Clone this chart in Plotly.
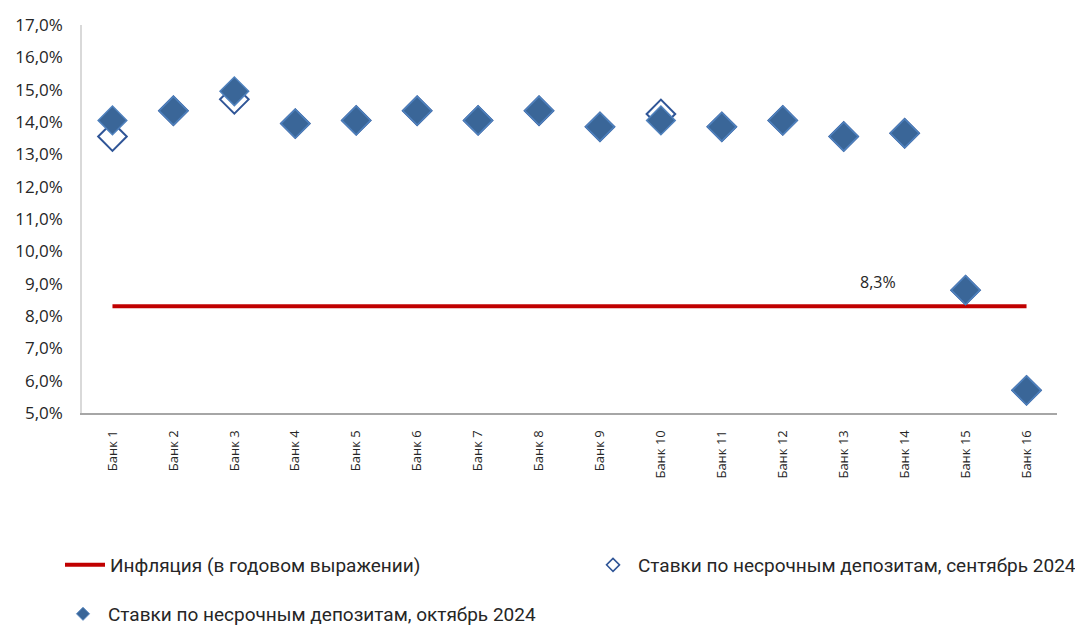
import plotly.graph_objects as go

banks = ['Банк ' + str(i) for i in range(1, 17)]
rates_oct = [14.05, 14.35, 14.95, 13.95, 14.05, 14.35, 14.05, 14.35,
             13.85, 14.05, 13.85, 14.05, 13.55, 13.65, 8.8, 5.7]
rates_sep = [13.55, 14.35, 14.7, 13.95, 14.05, 14.35, 14.05, 14.35,
             13.85, 14.25, 13.85, 14.05, 13.55, 13.65, 8.8, 5.7]
inflation = [8.3] * 16
inflation_label = '8,3%'

name_infl = 'Инфляция (в годовом выражении)'
name_sep = 'Ставки по несрочным депозитам, сентябрь 2024'
name_oct = 'Ставки по несрочным депозитам, октябрь 2024'

fnt = 'Open Sans'
leg_font = dict(family='Roboto', size=19, color='#262626')

# the page body has an 8px margin, so the figure is drawn 8px smaller
W, H = 1083 - 8, 627 - 8
L, R, T, B = 82 - 8, 26, 25 - 8, 627 - 413

sep_marker = dict(symbol='diamond', color='white', line=dict(color='#2F5597', width=2))
oct_marker = dict(symbol='diamond', color='#3A6698', line=dict(color='#4F81BD', width=1.5))

fig = go.Figure()

fig.add_trace(go.Scatter(x=banks, y=inflation, mode='lines', showlegend=True,
                         name=name_infl, line=dict(color='#C00000', width=4),
                         legend='legend'))
fig.add_trace(go.Scatter(x=banks, y=rates_sep, mode='markers', showlegend=False,
                         name=name_sep, marker=dict(sep_marker, size=22)))
fig.add_trace(go.Scatter(x=banks, y=rates_oct, mode='markers', showlegend=False,
                         name=name_oct, marker=dict(oct_marker, size=22)))

# legend entries with smaller symbols, as in the original
fig.add_trace(go.Scatter(x=[None], y=[None], mode='markers', name=name_sep,
                         marker=dict(sep_marker, size=10, line=dict(color='#2F5597', width=1.5)),
                         legend='legend2'))
fig.add_trace(go.Scatter(x=[None], y=[None], mode='markers', name=name_oct,
                         marker=dict(oct_marker, size=10, line=dict(color='#4F81BD', width=1)),
                         legend='legend3'))

fig.add_annotation(x=12.56, y=inflation[0], text=inflation_label, showarrow=False,
                   yshift=24, font=dict(family=fnt, size=16, color='#262626'))

pw = W - L - R
ph = H - T - B


def px(x):
    # x in reference pixels -> paper coords
    return (x - 8 - L) / pw


def py(y):
    return (H - B - (y - 8)) / ph


leg = dict(orientation='h', xanchor='left', yanchor='middle', font=leg_font,
           bgcolor='rgba(0,0,0,0)', itemwidth=40)

fig.update_layout(
    width=W, height=H,
    margin=dict(l=L, r=R, t=T, b=B, autoexpand=False),
    plot_bgcolor='white', paper_bgcolor='white',
    separators=', ',
    showlegend=True,
    font=dict(family=fnt, color='#262626'),
    xaxis=dict(type='category', range=[-0.5, 15.5], showgrid=False, showline=True,
               linecolor='#A6A6A6', linewidth=2, tickangle=-90, ticks='',
               ticklabelstandoff=10,
               tickfont=dict(family=fnt, size=13, color='#262626')),
    yaxis=dict(range=[5, 17], dtick=1, showgrid=False, zeroline=False, showline=True,
               linecolor='#D9D9D9', linewidth=1.5, tickformat='.1f', ticksuffix='%',
               ticks='', ticklabelstandoff=14,
               tickfont=dict(family=fnt, size=17, color='#262626')),
    legend=dict(leg, x=px(60), y=py(565)),
    legend2=dict(leg, x=px(588), y=py(565)),
    legend3=dict(leg, x=px(58), y=py(614)),
)

fig.write_html('out.html')
